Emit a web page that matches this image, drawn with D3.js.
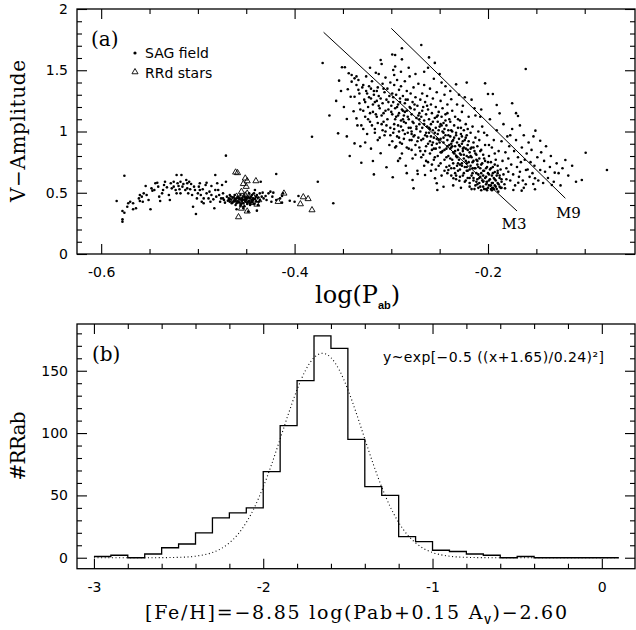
<!DOCTYPE html>
<html><head><meta charset="utf-8">
<script src="https://cdn.jsdelivr.net/npm/d3@7/dist/d3.min.js"></script>
<style>body{margin:0;background:#fff}</style>
</head><body>
<svg id="chart" width="636" height="630" xmlns="http://www.w3.org/2000/svg"></svg>
<script>
// ---------- DATA ----------
// Panel (a): SAG field RRab stars, short-period group
const sagShort = [[-0.584,0.433],[-0.578,0.351],[-0.576,0.337],[-0.578,0.264],[-0.578,0.283],[-0.573,0.386],[-0.572,0.414],[-0.570,0.427],[-0.567,0.414],[-0.567,0.365],[-0.564,0.373],[-0.561,0.454],[-0.560,0.482],[-0.558,0.468],[-0.560,0.433],[-0.557,0.427],[-0.556,0.495],[-0.554,0.555],[-0.553,0.482],[-0.551,0.441],[-0.549,0.365],[-0.548,0.536],[-0.547,0.517],[-0.545,0.522],[-0.544,0.577],[-0.542,0.582],[-0.541,0.550],[-0.540,0.468],[-0.539,0.433],[-0.537,0.495],[-0.536,0.522],[-0.535,0.563],[-0.534,0.590],[-0.532,0.544],[-0.530,0.482],[-0.529,0.441],[-0.528,0.577],[-0.527,0.536],[-0.525,0.590],[-0.525,0.550],[-0.523,0.522],[-0.522,0.495],[-0.522,0.645],[-0.521,0.577],[-0.520,0.555],[-0.519,0.528],[-0.518,0.590],[-0.518,0.495],[-0.517,0.645],[-0.516,0.550],[-0.515,0.571],[-0.513,0.522],[-0.512,0.604],[-0.511,0.577],[-0.511,0.536],[-0.510,0.495],[-0.509,0.590],[-0.508,0.528],[-0.507,0.571],[-0.506,0.482],[-0.505,0.386],[-0.504,0.550],[-0.503,0.522],[-0.502,0.327],[-0.501,0.454],[-0.500,0.495],[-0.499,0.550],[-0.498,0.522],[-0.498,0.577],[-0.497,0.482],[-0.496,0.427],[-0.495,0.528],[-0.494,0.454],[-0.494,0.414],[-0.492,0.563],[-0.491,0.495],[-0.491,0.582],[-0.489,0.454],[-0.488,0.509],[-0.487,0.427],[-0.486,0.555],[-0.486,0.482],[-0.484,0.446],[-0.483,0.373],[-0.482,0.522],[-0.482,0.645],[-0.481,0.468],[-0.480,0.577],[-0.479,0.522],[-0.478,0.482],[-0.477,0.427],[-0.476,0.454],[-0.475,0.563],[-0.474,0.495],[-0.474,0.454],[-0.473,0.441],[-0.472,0.419],[-0.471,0.803],[-0.471,0.590],[-0.470,0.468],[-0.469,0.435],[-0.468,0.454],[-0.467,0.427],[-0.467,0.482],[-0.466,0.446],[-0.465,0.414],[-0.464,0.463],[-0.463,0.435],[-0.462,0.482],[-0.461,0.441],[-0.460,0.414],[-0.460,0.454],[-0.459,0.468],[-0.458,0.427],[-0.457,0.446],[-0.456,0.482],[-0.456,0.400],[-0.455,0.435],[-0.454,0.454],[-0.453,0.414],[-0.452,0.468],[-0.451,0.427],[-0.450,0.441],[-0.449,0.408],[-0.449,0.454],[-0.448,0.427],[-0.447,0.495],[-0.446,0.414],[-0.445,0.468],[-0.444,0.482],[-0.443,0.441],[-0.443,0.454],[-0.442,0.495],[-0.441,0.522],[-0.440,0.468],[-0.439,0.482],[-0.438,0.400],[-0.437,0.427],[-0.436,0.495],[-0.435,0.590],[-0.434,0.468],[-0.433,0.501],[-0.432,0.454],[-0.430,0.473],[-0.429,0.441],[-0.427,0.495],[-0.425,0.509],[-0.424,0.427],[-0.423,0.468],[-0.422,0.501],[-0.419,0.653],[-0.419,0.441],[-0.415,0.454],[-0.413,0.473],[-0.412,0.495],[-0.405,0.435],[-0.400,0.427],[-0.396,0.473],[-0.376,0.590],[-0.576,0.639],[-0.460,0.365],[-0.453,0.373],[-0.448,0.346],[-0.439,0.354],[-0.413,0.419],[-0.462,0.430],[-0.457,0.420],[-0.452,0.440],[-0.447,0.432],[-0.444,0.425],[-0.458,0.455],[-0.450,0.462],
[-0.468,0.44],[-0.466,0.47],[-0.464,0.42],[-0.462,0.45],[-0.461,0.40],[-0.459,0.43],[-0.457,0.46],[-0.455,0.41],[-0.454,0.44],[-0.452,0.39],[-0.451,0.45],[-0.449,0.42],[-0.447,0.46],[-0.446,0.40],[-0.444,0.44],[-0.442,0.41],[-0.441,0.45],[-0.440,0.43],[-0.438,0.46],[-0.436,0.44]];

// Panel (a): SAG field RRab stars, long-period cloud
const sagLong = [[-0.382,0.957],[-0.371,1.559],[-0.360,0.414],[-0.354,1.415],[-0.346,1.102],[-0.342,1.284],[-0.351,1.524],[-0.348,1.524],[-0.344,1.475],[-0.341,1.461],[-0.338,1.434],[-0.336,1.450],[-0.334,1.420],[-0.341,1.407],[-0.336,1.380],[-0.338,1.284],[-0.334,1.340],[-0.343,0.800],[-0.331,0.745],[-0.338,0.903],[-0.336,1.107],[-0.355,0.985],[-0.349,1.200],[-0.345,1.345],[-0.339,1.165],[-0.333,1.230],[-0.331,1.050],[-0.352,1.330],[-0.357,1.250],[-0.346,0.960],[-0.332,0.880],[-0.364,1.130],
[-0.329,1.38],[-0.328,1.26],[-0.327,1.12],[-0.326,1.45],[-0.325,1.31],[-0.325,0.98],[-0.324,1.20],[-0.323,1.37],[-0.322,1.08],[-0.321,1.27],[-0.321,0.86],[-0.320,1.41],[-0.319,0.759],[-0.319,1.16],[-0.318,1.33],[-0.317,1.02],[-0.317,1.24],[-0.316,1.48],[-0.315,1.12],[-0.314,1.36],[-0.314,0.93],[-0.313,1.29],[-0.312,1.19],[-0.311,0.822],[-0.311,1.584],[-0.310,1.551],[-0.310,1.06],[-0.309,1.39],[-0.309,1.23],[-0.308,1.15],[-0.307,1.32],[-0.307,0.97],[-0.306,1.44],[-0.305,0.708],[-0.305,1.26],[-0.304,1.10],[-0.304,1.35],[-0.303,1.18],[-0.302,0.89],[-0.302,1.29],[-0.301,1.03],[-0.301,1.40],[-0.300,1.21],[-0.322,1.52],[-0.327,0.91],[-0.318,0.65],[-0.313,1.47],[-0.306,1.00],[-0.329,1.17],[-0.315,1.25],[-0.308,1.08],
[-0.299,1.629],[-0.296,1.624],[-0.289,1.679],[-0.289,1.589],[-0.298,1.502],[-0.297,1.461],[-0.290,1.488],[-0.2985,0.626],[-0.291,0.781],[-0.277,0.536],[-0.2727,0.653],[-0.278,0.604],
[-0.299,1.31],[-0.299,1.14],[-0.298,0.99],[-0.298,1.24],[-0.297,1.38],[-0.297,1.06],[-0.296,1.19],[-0.296,0.87],[-0.295,1.30],[-0.295,1.12],[-0.294,1.42],[-0.294,0.96],[-0.293,1.22],[-0.293,1.05],[-0.292,1.34],[-0.292,1.15],[-0.291,0.91],[-0.291,1.27],[-0.290,1.09],[-0.290,1.37],[-0.289,1.18],[-0.289,0.82],[-0.288,1.01],[-0.288,1.29],[-0.287,1.13],[-0.287,0.94],[-0.286,1.23],[-0.286,1.41],[-0.285,1.07],[-0.285,0.72],[-0.284,1.17],[-0.284,1.33],[-0.283,0.99],[-0.283,1.26],[-0.282,1.10],[-0.282,0.86],[-0.281,1.20],[-0.281,1.45],[-0.280,1.03],[-0.280,1.31],[-0.279,0.93],[-0.279,1.14],[-0.278,1.24],[-0.278,0.78],[-0.277,1.07],[-0.277,1.36],[-0.276,0.97],[-0.276,1.18],[-0.275,1.28],[-0.275,0.89],[-0.274,1.11],[-0.274,1.02],[-0.273,1.21],[-0.273,0.68],[-0.272,1.39],[-0.272,0.95],[-0.271,1.15],[-0.271,1.06],[-0.270,1.26],[-0.270,0.84],[-0.293,0.76],[-0.284,0.66],[-0.296,1.53],[-0.282,1.52],[-0.275,1.47],[-0.288,1.10],[-0.279,1.00],[-0.292,1.00],[-0.286,1.16],
[-0.269,1.706],[-0.261,1.605],[-0.266,1.488],[-0.248,1.399],[-0.2651,0.645],[-0.2548,0.618],[-0.253,0.577],[-0.2524,0.522],[-0.246,0.549],[-0.241,0.686],
[-0.269,1.12],[-0.269,0.93],[-0.268,1.31],[-0.268,1.03],[-0.267,1.20],[-0.267,0.81],[-0.266,1.09],[-0.266,1.38],[-0.265,0.97],[-0.265,1.24],[-0.264,1.14],[-0.264,0.88],[-0.263,1.04],[-0.263,1.29],[-0.262,1.18],[-0.262,0.75],[-0.261,0.99],[-0.261,1.10],[-0.260,1.35],[-0.260,0.92],[-0.259,1.22],[-0.259,1.06],[-0.258,0.85],[-0.258,1.15],[-0.257,1.01],[-0.257,1.27],[-0.256,0.95],[-0.256,1.43],[-0.255,1.11],[-0.255,0.79],[-0.254,1.20],[-0.254,1.03],[-0.253,0.90],[-0.253,1.32],[-0.252,1.08],[-0.252,0.98],[-0.251,1.16],[-0.251,0.72],[-0.250,1.04],[-0.250,0.87],[-0.249,1.25],[-0.249,0.94],[-0.248,1.12],[-0.248,0.83],[-0.247,1.00],[-0.247,1.19],[-0.246,0.91],[-0.246,1.07],[-0.245,0.77],[-0.245,1.30],[-0.244,0.97],[-0.244,1.14],[-0.243,0.86],[-0.243,1.05],[-0.242,0.93],[-0.242,1.22],[-0.241,1.01],[-0.241,0.80],[-0.240,1.10],[-0.240,0.89],[-0.262,1.52],[-0.255,1.56],[-0.250,1.47],[-0.244,1.37],[-0.259,0.68],[-0.248,0.64],[-0.243,0.71],[-0.266,0.72],[-0.257,0.91],[-0.252,1.13],[-0.246,0.99],[-0.263,0.96],[-0.254,0.86],[-0.249,1.06],[-0.242,1.15],[-0.260,1.02],[-0.245,0.85],[-0.251,0.93],
[-0.238,1.263],[-0.233,1.385],[-0.222,1.399],[-0.2358,0.618],[-0.2296,0.598],
[-0.239,0.96],[-0.239,0.78],[-0.239,1.08],[-0.238,0.87],[-0.238,0.70],[-0.237,1.00],[-0.237,0.92],[-0.237,1.17],[-0.236,0.83],[-0.236,0.74],[-0.235,0.95],[-0.235,1.05],[-0.234,0.88],[-0.234,0.66],[-0.234,1.12],[-0.233,0.80],[-0.233,0.99],[-0.232,0.91],[-0.232,0.72],[-0.232,1.22],[-0.231,0.85],[-0.231,1.03],[-0.230,0.77],[-0.230,0.94],[-0.229,0.69],[-0.229,1.09],[-0.229,0.88],[-0.228,0.81],[-0.228,0.98],[-0.227,0.74],[-0.227,1.16],[-0.227,0.90],[-0.226,0.84],[-0.226,0.64],[-0.225,1.01],[-0.225,0.78],[-0.224,0.93],[-0.224,0.71],[-0.224,1.28],[-0.223,0.86],[-0.223,1.06],[-0.222,0.80],[-0.222,0.97],[-0.221,0.68],[-0.221,0.89],[-0.220,0.75],[-0.220,1.12],[-0.220,0.92],[-0.219,0.83],[-0.219,0.62],[-0.218,0.99],[-0.218,0.72],[-0.217,0.87],[-0.217,0.79],[-0.216,1.04],[-0.216,0.66],[-0.215,0.91],[-0.215,0.76],[-0.214,0.84],[-0.214,1.19],[-0.213,0.70],[-0.213,0.95],[-0.212,0.81],[-0.212,0.59],[-0.211,0.88],[-0.211,0.73],[-0.210,1.00],[-0.210,0.65],[-0.239,1.33],[-0.230,1.30],[-0.226,1.21],[-0.217,1.26],[-0.213,1.13],[-0.236,0.56],[-0.228,0.54],[-0.219,0.55],[-0.214,0.53],[-0.233,0.64],[-0.223,0.60],[-0.231,1.10],[-0.221,1.02],[-0.225,0.87],[-0.235,0.82],[-0.218,0.86],[-0.212,0.77],[-0.229,0.73],[-0.216,0.70],[-0.238,0.90],[-0.227,0.96],[-0.222,0.74],[-0.215,0.62],[-0.211,0.57],
[-0.203,1.393],[-0.200,1.306],[-0.195,1.306],[-0.191,1.216],[-0.188,1.148],[-0.1894,0.509],[-0.1824,0.536],
[-0.209,0.78],[-0.209,0.62],[-0.209,0.93],[-0.208,0.70],[-0.208,0.55],[-0.207,0.85],[-0.207,0.66],[-0.206,0.74],[-0.206,1.04],[-0.205,0.59],[-0.205,0.81],[-0.204,0.68],[-0.204,0.53],[-0.203,0.76],[-0.203,0.89],[-0.202,0.63],[-0.202,0.57],[-0.201,0.71],[-0.201,0.97],[-0.200,0.66],[-0.200,0.54],[-0.199,0.80],[-0.199,0.60],[-0.198,0.69],[-0.198,1.10],[-0.197,0.56],[-0.197,0.75],[-0.196,0.64],[-0.196,0.87],[-0.195,0.58],[-0.195,0.71],[-0.194,0.53],[-0.194,0.93],[-0.193,0.67],[-0.193,0.61],[-0.192,0.77],[-0.192,0.55],[-0.191,0.64],[-0.191,1.01],[-0.190,0.58],[-0.190,0.72],[-0.189,0.84],[-0.188,0.62],[-0.188,0.55],[-0.187,0.69],[-0.186,0.92],[-0.186,0.59],[-0.185,0.76],[-0.184,0.65],[-0.184,1.06],[-0.183,0.57],[-0.182,0.83],[-0.181,0.70],[-0.181,0.61],[-0.180,0.96],[-0.207,1.18],[-0.201,0.52],[-0.196,0.52],[-0.199,0.89],[-0.193,0.82],[-0.205,0.64],[-0.190,0.66],[-0.186,0.54],[-0.204,0.99],[-0.208,1.12],
[-0.175,1.230],[-0.169,1.127],[-0.161,1.510],[-0.179,0.672],[-0.1738,0.522],[-0.1687,0.582],[-0.1652,0.517],[-0.167,0.672],[-0.1607,0.686],[-0.1532,0.571],[-0.1514,0.528],[-0.1514,0.618],[-0.151,1.007],
[-0.179,0.78],[-0.178,0.88],[-0.177,0.60],[-0.176,0.73],[-0.175,1.02],[-0.174,0.65],[-0.173,0.84],[-0.172,0.56],[-0.171,0.93],[-0.170,0.71],[-0.169,0.79],[-0.168,0.63],[-0.167,1.05],[-0.166,0.75],[-0.165,0.87],[-0.164,0.60],[-0.163,0.97],[-0.162,0.77],[-0.161,0.57],[-0.160,0.82],[-0.159,0.69],[-0.158,0.91],[-0.157,0.63],[-0.156,0.75],[-0.155,0.85],[-0.154,0.66],[-0.153,0.96],[-0.152,0.72],[-0.171,1.15],[-0.177,0.97],[-0.163,0.54],
[-0.146,0.925],[-0.146,0.686],[-0.141,0.672],[-0.134,0.563],[-0.131,0.664],[-0.099,0.827],[-0.120,0.767],[-0.103,0.604],[-0.077,0.686],
[-0.149,0.79],[-0.148,0.60],[-0.145,0.83],[-0.143,0.58],[-0.142,0.76],[-0.140,0.88],[-0.138,0.62],[-0.136,0.71],[-0.135,0.80],[-0.132,0.59],[-0.129,0.74],[-0.127,0.66],[-0.125,0.56],[-0.123,0.70],[-0.117,0.64],[-0.113,0.72],[-0.109,0.59]];

// Panel (a): SAG field RRab stars, dense ridge of the long-period cloud
const sagRidge = [[-0.335,1.05],[-0.333,1.31],[-0.332,1.18],[-0.330,1.36],[-0.329,1.02],[-0.327,1.24],[-0.326,1.33],[-0.324,1.10],[-0.323,1.28],[-0.322,1.15],[-0.321,1.35],[-0.320,1.05],
[-0.319,1.22],[-0.318,1.30],[-0.317,0.99],[-0.316,1.14],[-0.315,1.33],[-0.314,1.07],[-0.313,1.21],[-0.312,0.95],[-0.311,1.27],[-0.310,1.13],[-0.309,1.01],[-0.308,1.35],[-0.306,1.17],[-0.305,1.05],[-0.303,1.24],[-0.301,0.97],
[-0.300,1.16],[-0.299,0.92],[-0.298,1.28],[-0.297,1.02],[-0.296,1.10],[-0.295,0.88],[-0.294,1.20],[-0.293,1.13],[-0.292,0.95],[-0.291,1.24],[-0.290,1.04],[-0.289,0.90],[-0.288,1.17],[-0.287,1.08],[-0.286,0.98],[-0.285,1.26],[-0.284,0.87],[-0.283,1.12],[-0.282,1.03],[-0.281,0.93],
[-0.280,1.19],[-0.279,0.85],[-0.278,1.08],[-0.277,0.96],[-0.276,1.22],[-0.275,0.81],[-0.274,1.04],[-0.273,0.92],[-0.272,1.13],[-0.271,0.87],[-0.270,1.00],[-0.269,0.79],[-0.268,1.17],[-0.267,0.94],[-0.266,1.06],[-0.265,0.84],[-0.264,0.99],[-0.263,1.21],[-0.262,0.90],[-0.261,1.03],[-0.260,0.82],[-0.279,0.98],[-0.271,1.10],[-0.264,0.76],
[-0.259,0.96],[-0.258,0.73],[-0.257,1.08],[-0.256,0.86],[-0.255,0.99],[-0.254,0.69],[-0.253,1.12],[-0.252,0.80],[-0.251,1.01],[-0.250,0.91],[-0.249,0.74],[-0.248,1.05],[-0.247,0.84],[-0.246,0.95],[-0.245,0.68],[-0.244,1.09],[-0.243,0.79],[-0.242,0.88],[-0.241,0.97],[-0.240,0.72],[-0.258,0.89],[-0.253,0.94],[-0.249,0.83],[-0.245,1.02],[-0.242,0.66],[-0.256,0.77],
[-0.239,0.86],[-0.238,0.64],[-0.238,1.01],[-0.237,0.77],[-0.236,0.93],[-0.235,0.70],[-0.234,0.84],[-0.233,0.61],[-0.233,0.97],[-0.232,0.79],[-0.231,0.68],[-0.230,0.89],[-0.229,0.63],[-0.229,0.82],[-0.228,1.03],[-0.227,0.72],[-0.226,0.92],[-0.225,0.66],[-0.225,0.81],[-0.224,0.59],[-0.223,0.76],[-0.223,0.95],[-0.222,0.68],[-0.221,0.85],[-0.221,0.62],[-0.220,0.79],[-0.237,0.88],[-0.231,0.74],[-0.226,0.86],[-0.222,0.71],
[-0.219,0.69],[-0.219,0.58],[-0.218,0.80],[-0.217,0.64],[-0.217,0.53],[-0.216,0.75],[-0.215,0.87],[-0.215,0.60],[-0.214,0.70],[-0.213,0.56],[-0.213,0.82],[-0.212,0.66],[-0.211,0.61],[-0.211,0.76],[-0.210,0.54],[-0.210,0.71],[-0.209,0.58],[-0.208,0.84],[-0.208,0.63],[-0.207,0.52],[-0.207,0.73],[-0.206,0.60],[-0.205,0.68],[-0.205,0.55],[-0.204,0.78],[-0.203,0.62],[-0.202,0.70],[-0.202,0.53],[-0.201,0.59],[-0.200,0.75],
[-0.199,0.56],[-0.199,0.65],[-0.198,0.61],[-0.197,0.53],[-0.197,0.70],[-0.196,0.58],[-0.195,0.66],[-0.195,0.54],[-0.194,0.62],[-0.193,0.73],[-0.193,0.56],[-0.192,0.60],[-0.191,0.53],[-0.190,0.68],[-0.189,0.57],[-0.188,0.64],[-0.187,0.54],[-0.186,0.61]];

// Panel (a): RRd stars (open triangles)
const rrdStars = [[-0.461,0.667],[-0.459,0.662],[-0.451,0.618],[-0.449,0.596],[-0.453,0.573],[-0.450,0.550],[-0.440,0.596],[-0.455,0.509],[-0.449,0.495],[-0.411,0.495],[-0.417,0.427],[-0.391,0.465],[-0.386,0.450],[-0.394,0.408],[-0.382,0.359],[-0.458,0.302],[-0.449,0.349],[-0.455,0.372],[-0.437,0.441],[-0.439,0.405],[-0.444,0.418],[-0.456,0.430],[-0.463,0.441],[-0.460,0.470],[-0.448,0.446],[-0.453,0.457],[-0.443,0.470],[-0.454,0.400],[-0.446,0.430],[-0.451,0.480]];

// Panel (a): Oosterhoff reference lines (endpoints)
const m3Line = [[-0.370,1.810],[-0.170,0.351]];
const m9Line = [[-0.300,1.842],[-0.120,0.455]];

// Panel (a) ticks
const aXMajor = [-0.6,-0.4,-0.2];
const aXMinor = [-0.55,-0.5,-0.45,-0.35,-0.3,-0.25,-0.15,-0.1];
const aYMajor = [0,0.5,1,1.5,2];
const aYMinor = [0.1,0.2,0.3,0.4,0.6,0.7,0.8,0.9,1.1,1.2,1.3,1.4,1.6,1.7,1.8,1.9];

// Panel (b): histogram of [Fe/H], bin starts (width 0.1) and counts
const feBins = [-3.0,-2.9,-2.8,-2.7,-2.6,-2.5,-2.4,-2.3,-2.2,-2.1,-2.0,-1.9,-1.8,-1.7,-1.6,-1.5,-1.4,-1.3,-1.2,-1.1,-1.0,-0.9,-0.8,-0.7,-0.6,-0.5,-0.4,-0.3,-0.2,-0.1,0.0];
const feCounts = [1,2,0,3,8,11,20,32,36,40,69,106,142,178,168,95,57,50,17,13,6,5,3,2,0,1,0,0,0,0,0];
const feBinEnd = 0.1;

// Panel (b): Gaussian fit curve y~exp[-0.5((x+1.65)/0.24)^2], values read at these x
const fitX = [-3.0,-2.9,-2.8,-2.7,-2.6,-2.5,-2.4,-2.3,-2.25,-2.2,-2.15,-2.1,-2.05,-2.0,-1.95,-1.9,-1.85,-1.8,-1.75,-1.7,-1.65,-1.6,-1.55,-1.5,-1.45,-1.4,-1.35,-1.3,-1.25,-1.2,-1.15,-1.1,-1.05,-1.0,-0.9,-0.8,-0.7,-0.6,-0.5,-0.4,-0.3,-0.2,-0.1,0.0,0.1];
const fitY = [0,0,0,0.01,0.07,0.31,1.24,4.19,7.2,11.9,18.7,28.3,40.9,56.7,75.1,95.3,115.9,134.9,150.4,160.5,164,160.5,150.4,134.9,115.9,95.3,75.1,56.7,40.9,28.3,18.7,11.9,7.2,4.19,1.24,0.31,0.07,0.01,0,0,0,0,0,0,0];

// Panel (b) ticks
const bXMajor = [-3,-2,-1,0];
const bXMinor = [-2.8,-2.6,-2.4,-2.2,-1.8,-1.6,-1.4,-1.2,-0.8,-0.6,-0.4,-0.2];
const bYMajor = [0,50,100,150];
const bYMinor = [10,20,30,40,60,70,80,90,110,120,130,140,160,170,180];

// ---------- DRAW ----------
const svg = d3.select("#chart");
const SANS = "'DejaVu Sans', sans-serif";
const SERIF = "'DejaVu Serif', serif";

function framedAxes(g, x, y, box, xMaj, xMin, yMaj, yMin) {
  const fmt = d => String(d);
  const clean = s => { s.select(".domain").remove(); s.attr("font-family", SANS).attr("font-size", 14); s.selectAll("line").attr("stroke","#000").attr("stroke-width",1.1); };
  g.append("g").attr("transform",`translate(0,${box.y1})`).call(d3.axisBottom(x).tickValues(xMaj).tickSize(-10).tickPadding(13).tickFormat(fmt)).call(clean);
  g.append("g").attr("transform",`translate(0,${box.y1})`).call(d3.axisBottom(x).tickValues(xMin).tickSize(-5).tickFormat("")).call(clean);
  g.append("g").attr("transform",`translate(0,${box.y0})`).call(d3.axisTop(x).tickValues(xMaj).tickSize(-10).tickFormat("")).call(clean);
  g.append("g").attr("transform",`translate(0,${box.y0})`).call(d3.axisTop(x).tickValues(xMin).tickSize(-5).tickFormat("")).call(clean);
  g.append("g").attr("transform",`translate(${box.x0},0)`).call(d3.axisLeft(y).tickValues(yMaj).tickSize(-10).tickPadding(9).tickFormat(fmt)).call(clean);
  g.append("g").attr("transform",`translate(${box.x0},0)`).call(d3.axisLeft(y).tickValues(yMin).tickSize(-5).tickFormat("")).call(clean);
  g.append("g").attr("transform",`translate(${box.x1},0)`).call(d3.axisRight(y).tickValues(yMaj).tickSize(-10).tickFormat("")).call(clean);
  g.append("g").attr("transform",`translate(${box.x1},0)`).call(d3.axisRight(y).tickValues(yMin).tickSize(-5).tickFormat("")).call(clean);
  g.selectAll("text").attr("fill","#000");
  g.append("rect").attr("x",box.x0).attr("y",box.y0).attr("width",box.x1-box.x0).attr("height",box.y1-box.y0)
    .attr("fill","none").attr("stroke","#000").attr("stroke-width",1.3);
}

// ----- Panel (a)
const boxA = {x0:77, x1:635, y0:9, y1:254};
const xA = d3.scaleLinear().domain([-0.625,-0.048]).range([boxA.x0, boxA.x1]);
const yA = d3.scaleLinear().domain([0,2]).range([boxA.y1, boxA.y0]);
const gA = svg.append("g");
framedAxes(gA, xA, yA, boxA, aXMajor, aXMinor, aYMajor, aYMinor);

const lineA = d3.line().x(d => xA(d[0])).y(d => yA(d[1]));
gA.append("path").attr("d", lineA(m3Line)).attr("stroke","#000").attr("stroke-width",1).attr("fill","none");
gA.append("path").attr("d", lineA(m9Line)).attr("stroke","#000").attr("stroke-width",1).attr("fill","none");

gA.append("g").selectAll("circle").data(sagShort.concat(sagLong, sagRidge)).join("circle")
  .attr("cx", d => xA(d[0])).attr("cy", d => yA(d[1])).attr("r", 1.3).attr("fill","#000");

const tri = d3.symbol().type(d3.symbolTriangle).size(16);
gA.append("g").selectAll("path").data(rrdStars).join("path")
  .attr("d", tri).attr("transform", d => `translate(${xA(d[0])},${yA(d[1])})`)
  .attr("fill","none").attr("stroke","#000").attr("stroke-width",0.9);

gA.append("text").attr("x", xA(m3Line[1][0]) - 3).attr("y", 229).attr("text-anchor","middle")
  .attr("font-family", SERIF).attr("font-size", 15).text("M3");
gA.append("text").attr("x", xA(m9Line[1][0]) + 3).attr("y", 218).attr("text-anchor","middle")
  .attr("font-family", SERIF).attr("font-size", 15).text("M9");

gA.append("text").attr("x", 91).attr("y", 46).attr("font-family", SERIF).attr("font-size", 20).text("(a)");
// legend
gA.append("circle").attr("cx",135).attr("cy",53).attr("r",1.6).attr("fill","#000");
gA.append("text").attr("x",145).attr("y",57.5).attr("font-family",SANS).attr("font-size",14).text("SAG field");
gA.append("path").attr("d", tri).attr("transform","translate(135,72)").attr("fill","none").attr("stroke","#000").attr("stroke-width",0.9);
gA.append("text").attr("x",145).attr("y",77.5).attr("font-family",SANS).attr("font-size",14).text("RRd stars");

// axis titles (a)
svg.append("text").attr("transform","translate(25,131) rotate(-90)").attr("text-anchor","middle")
  .attr("font-family",SERIF).attr("font-size",20).attr("textLength",142).text("V\u2212Amplitude");
const tA = svg.append("text").attr("x",315).attr("y",303).attr("font-family",SERIF).attr("font-size",24);
tA.append("tspan").text("log(P");
tA.append("tspan").attr("font-family","'Liberation Sans', sans-serif").attr("font-weight","bold").attr("font-size",11).attr("dy",6).text("ab");
tA.append("tspan").attr("dy",-6).text(")");

// ----- Panel (b)
const boxB = {x0:77, x1:635, y0:324, y1:568.7};
const xB = d3.scaleLinear().domain([-3.1,0.196]).range([boxB.x0, boxB.x1]);
const yB = d3.scaleLinear().domain([-8.8,187.5]).range([boxB.y1, boxB.y0]);
const gB = svg.append("g");
framedAxes(gB, xB, yB, boxB, bXMajor, bXMinor, bYMajor, bYMinor);

const histPts = feBins.map((b,i) => [b, feCounts[i]]).concat([[feBinEnd, feCounts[feCounts.length-1]]]);
gB.append("path").attr("d", d3.line().curve(d3.curveStepAfter).x(d => xB(d[0])).y(d => yB(d[1]))(histPts))
  .attr("fill","none").attr("stroke","#000").attr("stroke-width",1.3);

gB.append("path").attr("d", d3.line().curve(d3.curveMonotoneX).x((d,i) => xB(fitX[i])).y((d,i) => yB(fitY[i]))(fitX))
  .attr("fill","none").attr("stroke","#000").attr("stroke-width",1.1).attr("stroke-dasharray","1,2.6");

gB.append("text").attr("x",92).attr("y",361).attr("font-family",SERIF).attr("font-size",20).text("(b)");
gB.append("text").attr("x",383).attr("y",362).attr("font-family",SANS).attr("font-size",14).attr("textLength",221)
  .text("y~exp[\u22120.5 ((x+1.65)/0.24)\u00B2]");

svg.append("text").attr("transform","translate(25,446) rotate(-90)").attr("text-anchor","middle")
  .attr("font-family",SERIF).attr("font-size",20).attr("textLength",69).text("#RRab");
const tB = svg.append("text").attr("x",145).attr("y",619).attr("font-family",SERIF).attr("font-size",19).attr("textLength",422);
tB.append("tspan").text("[Fe/H]=\u22128.85 log(Pab+0.15 A");
tB.append("tspan").attr("font-family","'Liberation Sans', sans-serif").attr("font-weight","bold").attr("font-size",10).attr("dy",5).text("V");
tB.append("tspan").attr("dy",-5).text(")\u22122.60");
</script>
</body></html>
